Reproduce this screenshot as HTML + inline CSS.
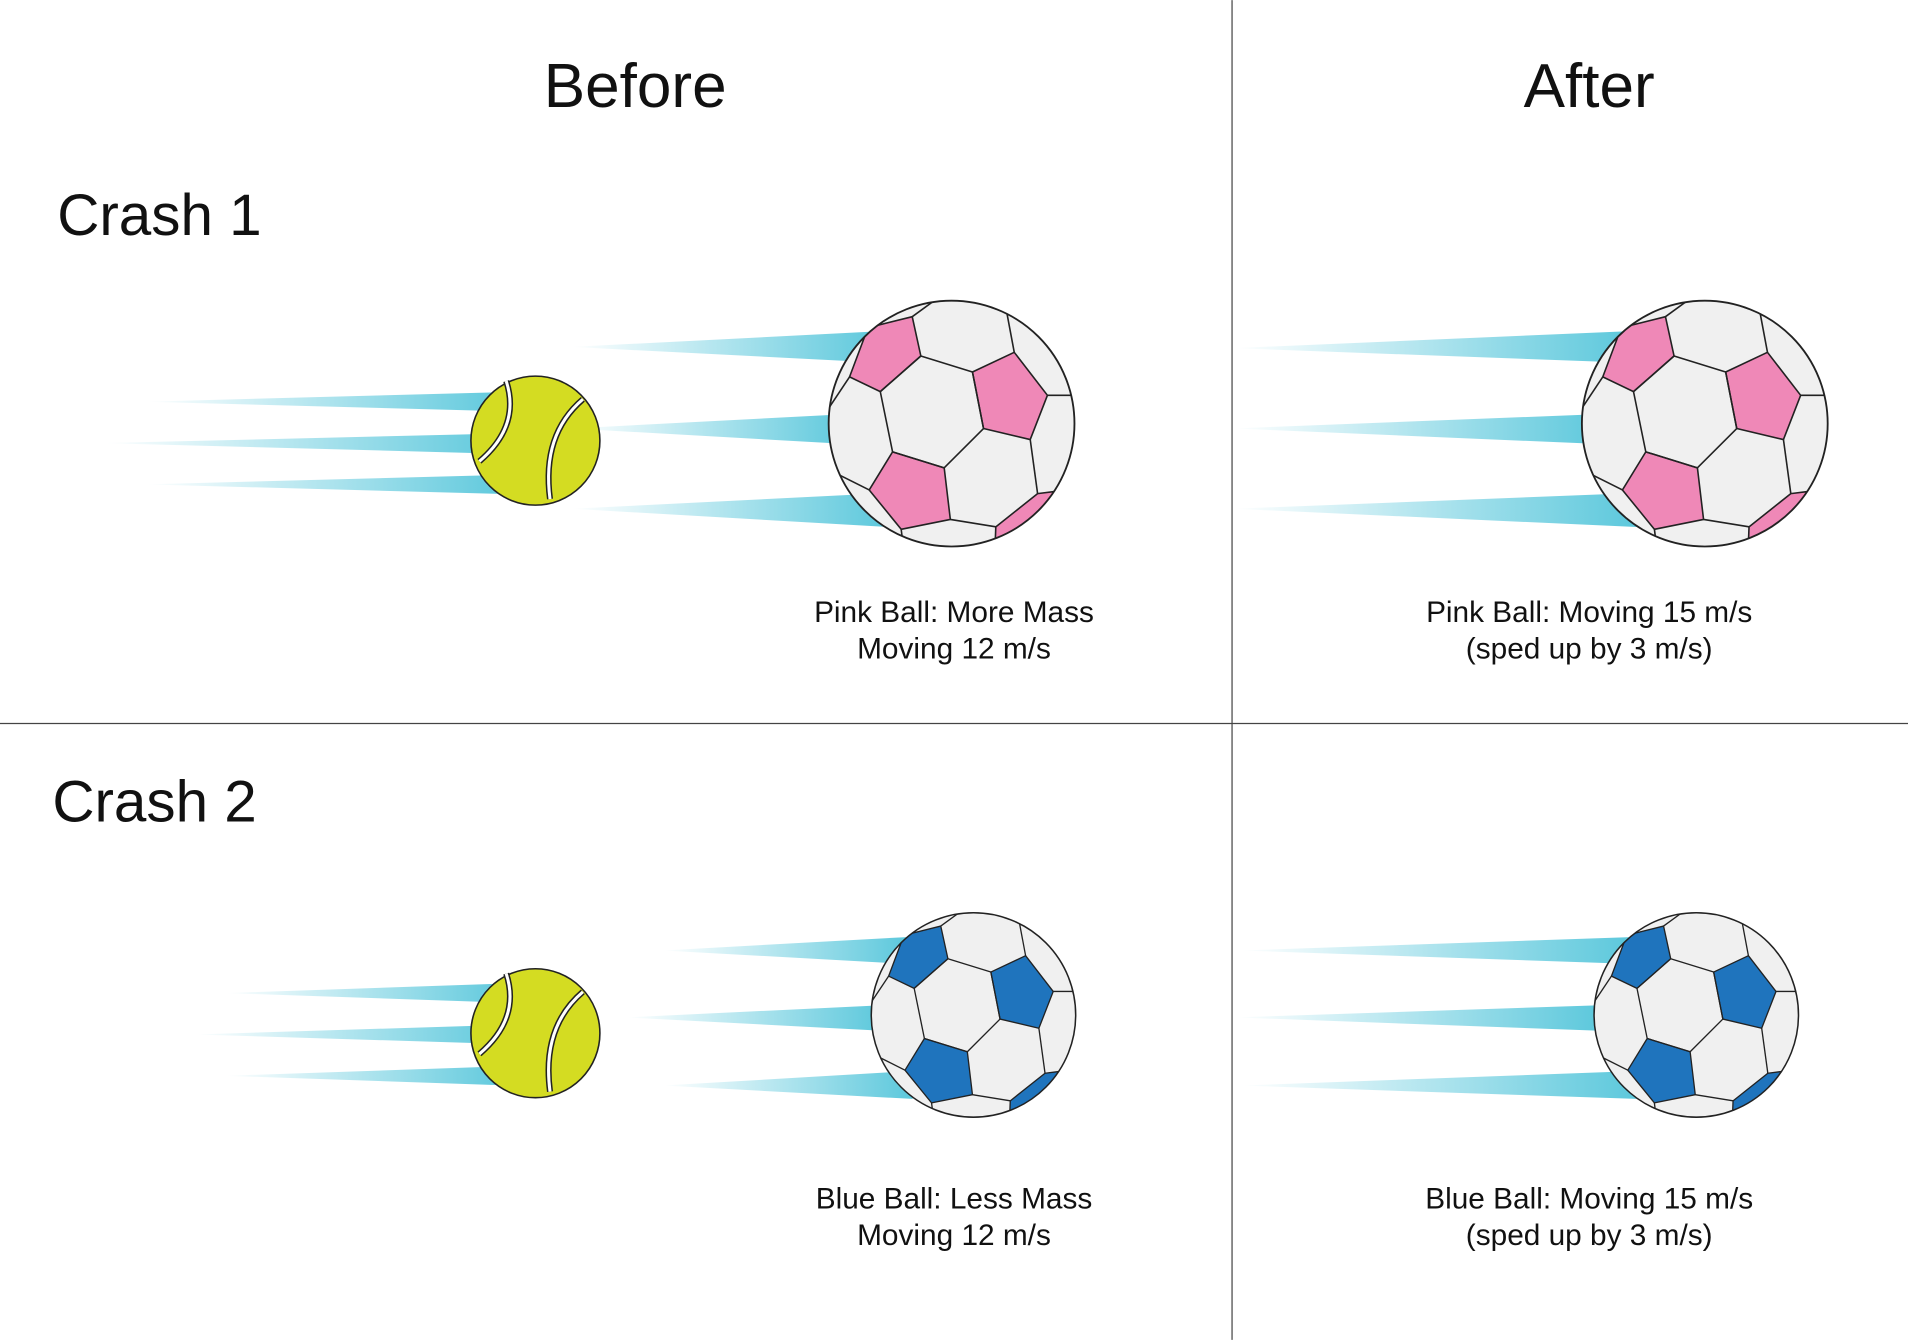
<!DOCTYPE html>
<html><head><meta charset="utf-8"><style>
html,body{margin:0;padding:0;background:#fff;}
svg{display:block;}
text{font-family:"Liberation Sans",sans-serif;fill:#111;}
</style></head><body>
<svg width="1908" height="1340" viewBox="0 0 1568 1101" xmlns="http://www.w3.org/2000/svg">
<defs>
<linearGradient id="g" x1="0" x2="1" y1="0" y2="0">
<stop offset="0" stop-color="#5cc8dc" stop-opacity="0"/>
<stop offset="1" stop-color="#5cc8dc" stop-opacity="1"/>
</linearGradient>
<clipPath id="cc"><circle cx="0" cy="0" r="100"/></clipPath>
<g id="seams" fill="none">
<polygon points="-25,-55 17,-42 26,4 -6,36 -48,23 -58,-26"/>
<polyline points="-32,-87 -10,-103"/>
<polyline points="45,-90 51,-58"/>
<polyline points="78,-23 99,-23"/>
<polyline points="64,13 70,57"/>
<polyline points="-1,78 36,84"/>
<polyline points="-41,86 -39,102"/>
<polyline points="-67,54 -91,42"/>
<polyline points="-83,-38 -99,-14"/>
<polyline points="-68,-78 -80,-60"/>
</g>
<g id="sbP">
<circle r="100" fill="#f0f0f0"/>
<g clip-path="url(#cc)" stroke="#222" stroke-width="1.3" stroke-linejoin="round" fill="#ef88b7">
<polygon points="-68,-78 -32,-87 -25,-55 -58,-26 -83,-38"/>
<polygon points="17,-42 51,-58 78,-23 64,13 26,4"/>
<polygon points="-48,23 -67,54 -41,86 -1,78 -6,36"/>
<polygon points="1,-106 20,-130 60,-110 52,-91 45,-90"/>
<polygon points="36,84 35,110 100,70 86,55 70,57"/>
<use href="#seams"/>
</g>
<circle r="100" fill="none" stroke="#222" stroke-width="1.5"/>
</g>
<g id="sbB">
<circle r="100" fill="#f0f0f0"/>
<g clip-path="url(#cc)" stroke="#222" stroke-width="1.3" stroke-linejoin="round" fill="#1f74bd">
<polygon points="-68,-78 -32,-87 -25,-55 -58,-26 -83,-38"/>
<polygon points="17,-42 51,-58 78,-23 64,13 26,4"/>
<polygon points="-48,23 -67,54 -41,86 -1,78 -6,36"/>
<polygon points="1,-106 20,-130 60,-110 52,-91 45,-90"/>
<polygon points="36,84 35,110 100,70 86,55 70,57"/>
<use href="#seams"/>
</g>
<circle r="100" fill="none" stroke="#222" stroke-width="1.5"/>
</g>
<g id="tb">
<circle r="53" fill="#d4dc22" stroke="#222" stroke-width="1.3"/>
<path d="M-24,-49 Q-12,-12 -46,17" fill="none" stroke="#222" stroke-width="5"/>
<path d="M-24,-49 Q-12,-12 -46,17" fill="none" stroke="#fff" stroke-width="2.5"/>
<path d="M39,-34 Q5,-5 12,48" fill="none" stroke="#222" stroke-width="5"/>
<path d="M39,-34 Q5,-5 12,48" fill="none" stroke="#fff" stroke-width="2.5"/>
</g>
</defs>

<line x1="1012.5" y1="0" x2="1012.5" y2="1101" stroke="#444" stroke-width="1"/>
<line x1="0" y1="594.5" x2="1568" y2="594.5" stroke="#444" stroke-width="1"/>

<text x="522" y="88" font-size="51" text-anchor="middle">Before</text>
<text x="1306" y="88" font-size="51" text-anchor="middle">After</text>
<text x="47" y="193" font-size="48">Crash 1</text>
<text x="43" y="675" font-size="48">Crash 2</text>

<g fill="url(#g)">
<polygon points="120,330 420,322 420,338"/>
<polygon points="85,364 420,356 420,373"/>
<polygon points="120,398 420,390 420,406"/>
<polygon points="470,285 725,272 725,298"/>
<polygon points="470,352 700,340 700,365"/>
<polygon points="470,418 730,405 730,433"/>
</g>
<use href="#tb" x="440" y="362"/>
<use href="#sbP" transform="translate(782,348) scale(1.01)"/>
<text x="784" y="511" font-size="24.5" text-anchor="middle">Pink Ball: More Mass</text>
<text x="784" y="541" font-size="24.5" text-anchor="middle">Moving 12 m/s</text>

<g fill="url(#g)">
<polygon points="1014,286 1340,272 1340,298"/>
<polygon points="1014,352 1320,340 1320,365"/>
<polygon points="1014,418 1345,405 1345,433"/>
</g>
<use href="#sbP" transform="translate(1401,348) scale(1.01)"/>
<text x="1306" y="511" font-size="24.5" text-anchor="middle">Pink Ball: Moving 15 m/s</text>
<text x="1306" y="541" font-size="24.5" text-anchor="middle">(sped up by 3 m/s)</text>

<g fill="url(#g)">
<polygon points="185,816 420,808 420,824"/>
<polygon points="160,850 420,842 420,858"/>
<polygon points="185,884 420,876 420,892"/>
<polygon points="545,781 745,770 745,792"/>
<polygon points="515,836 725,826 725,847"/>
<polygon points="545,892 750,880 750,903"/>
</g>
<use href="#tb" x="440" y="849"/>
<use href="#sbB" transform="translate(800,834) scale(0.84)"/>
<text x="784" y="993" font-size="24.5" text-anchor="middle">Blue Ball: Less Mass</text>
<text x="784" y="1023" font-size="24.5" text-anchor="middle">Moving 12 m/s</text>

<g fill="url(#g)">
<polygon points="1020,781 1340,770 1340,792"/>
<polygon points="1015,836 1315,826 1315,847"/>
<polygon points="1020,892 1345,880 1345,903"/>
</g>
<use href="#sbB" transform="translate(1394,834) scale(0.84)"/>
<text x="1306" y="993" font-size="24.5" text-anchor="middle">Blue Ball: Moving 15 m/s</text>
<text x="1306" y="1023" font-size="24.5" text-anchor="middle">(sped up by 3 m/s)</text>
</svg>
</body></html>
